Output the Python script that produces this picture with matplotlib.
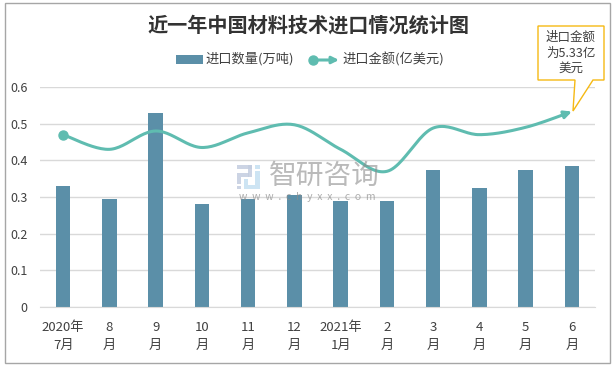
import matplotlib
matplotlib.use("Agg")
import matplotlib.pyplot as plt
import numpy as np
from matplotlib.patches import Polygon, Rectangle

plt.rcParams["font.family"] = ["Noto Sans CJK SC", "DejaVu Sans"]

months = ["2020年\n7月", "8\n月", "9\n月", "10\n月", "11\n月", "12\n月",
          "2021年\n1月", "2\n月", "3\n月", "4\n月", "5\n月", "6\n月"]
quantity = [0.33, 0.295, 0.53, 0.28, 0.295, 0.305, 0.29, 0.29, 0.375, 0.325, 0.375, 0.385]
amount = [0.47, 0.43, 0.48, 0.435, 0.475, 0.497, 0.43, 0.37, 0.488, 0.47, 0.49, 0.533]
y_ticks = [0, 0.1, 0.2, 0.3, 0.4, 0.5, 0.6]
y_labels = ["0", "0.1", "0.2", "0.3", "0.4", "0.5", "0.6"]

W, H = 613, 367
BAR = "#5b8fa8"
LINE = "#5fbcb0"
GOLD = "#f5b914"
TEXT = "#404040"


def fx(px):
    return px / W


def fy(py):
    return 1 - py / H


def smooth(xs, ys, steps=24):
    # same kind of bezier smoothing the spreadsheet line uses
    xs = np.asarray(xs, dtype=float)
    ys = np.asarray(ys, dtype=float)
    px, py = [], []
    for i in range(len(xs) - 1):
        a, d = max(i - 1, 0), min(i + 2, len(xs) - 1)
        c1x = xs[i] + (xs[i + 1] - xs[a]) / 6
        c1y = ys[i] + (ys[i + 1] - ys[a]) / 6
        c2x = xs[i + 1] - (xs[d] - xs[i]) / 6
        c2y = ys[i + 1] - (ys[d] - ys[i]) / 6
        t = np.linspace(0, 1, steps, endpoint=False)
        px.extend((1 - t) ** 3 * xs[i] + 3 * (1 - t) ** 2 * t * c1x + 3 * (1 - t) * t ** 2 * c2x + t ** 3 * xs[i + 1])
        py.extend((1 - t) ** 3 * ys[i] + 3 * (1 - t) ** 2 * t * c1y + 3 * (1 - t) * t ** 2 * c2y + t ** 3 * ys[i + 1])
    px.append(xs[-1])
    py.append(ys[-1])
    return np.array(px), np.array(py)


fig = plt.figure(figsize=(W / 100, H / 100), dpi=100, facecolor="white")
fig.add_artist(Rectangle((fx(5), fy(363)), fx(605), 360 / H, transform=fig.transFigure,
                         fill=False, edgecolor="#a6a6a6", linewidth=1))

ax = fig.add_axes([fx(40), fy(307), fx(555), 220 / H])
x = np.arange(len(months))
ax.bar(x, quantity, width=0.31, color=BAR, zorder=2)

sx, sy = smooth(x, amount)
ax.plot(sx[:-3], sy[:-3], color=LINE, linewidth=2.2, zorder=3, solid_capstyle="round")
ax.plot(x[0], amount[0], "o", color=LINE, markersize=6.5, zorder=4)
ax.annotate("", xy=(sx[-1], sy[-1]), xytext=(sx[-6], sy[-6]), zorder=4,
            arrowprops=dict(arrowstyle="-|>", color=LINE, lw=2.2, mutation_scale=11,
                            shrinkA=0, shrinkB=0))

ax.set_xlim(-0.5, len(months) - 0.5)
ax.set_ylim(0, 0.6)
ax.set_yticks(y_ticks)
ax.set_yticklabels(y_labels, fontsize=9, color=TEXT)
ax.set_xticks(x)
ax.set_xticklabels(months, fontsize=9.5, color=TEXT, linespacing=1.55)
ax.tick_params(length=0, axis="both")
ax.tick_params(axis="x", pad=10)
ax.tick_params(axis="y", pad=9)
ax.grid(axis="y", color="#d9d9d9", linewidth=1, zorder=0)
ax.set_axisbelow(True)
for name, spine in ax.spines.items():
    spine.set_visible(name == "bottom")
    spine.set_color("#d9d9d9")

fig.text(fx(308), fy(25), "近一年中国材料技术进口情况统计图", fontsize=14.5, fontweight="bold",
         color="#333333", ha="center", va="center")

# legend
fig.add_artist(Rectangle((fx(176), fy(64)), fx(27), 9 / H, transform=fig.transFigure,
                         color=BAR, linewidth=0))
fig.text(fx(205), fy(59), "进口数量(万吨)", fontsize=9.5, color=TEXT, va="center")
fig.add_artist(plt.Line2D([fx(313)], [fy(60)], marker="o", color=LINE, markersize=6.5,
                          transform=fig.transFigure))
ax.annotate("", xy=(fx(339), fy(60)), xytext=(fx(313), fy(60)), xycoords="figure fraction",
            textcoords="figure fraction",
            arrowprops=dict(arrowstyle="-|>", color=LINE, lw=2.2, mutation_scale=10,
                            shrinkA=0, shrinkB=0))
fig.text(fx(342), fy(59), "进口金额(亿美元)", fontsize=9.5, color=TEXT, va="center")

# callout
callout = [(538, 26), (604, 26), (604, 80), (593, 80), (573, 111), (575, 80), (538, 80)]
fig.add_artist(Polygon([(fx(a), fy(b)) for a, b in callout], closed=True, transform=fig.transFigure,
                       facecolor="white", edgecolor=GOLD, linewidth=1, zorder=5))
fig.text(fx(571), fy(53), "进口金额\n为5.33亿\n美元", fontsize=9, color=TEXT, ha="center",
         va="center", linespacing=1.25, zorder=6)

# watermark
logo_dark = [(237, 165, 15, 4), (248, 165, 4, 12), (237, 173, 12, 4), (237, 177, 4, 7), (237, 186, 4, 3)]
logo_light = [(255, 165, 5, 4), (255, 171, 5, 14), (244, 185, 16, 4), (244, 179, 4, 6)]
for pieces, color in [(logo_dark, "#c3cde0"), (logo_light, "#c5e0f2")]:
    for a, b, c, d in pieces:
        fig.add_artist(Rectangle((fx(a), fy(b + d)), fx(c), d / H, transform=fig.transFigure,
                                 color=color, linewidth=0, alpha=0.85, zorder=6))
fig.text(fx(324), fy(176), "智研咨询", fontsize=20, color="#8c8c8c", alpha=0.6, ha="center",
         va="center", zorder=6)
fig.text(fx(307), fy(197), "w  w  w  .  c  h  y  x  x  .  c  o  m", fontsize=7.5, color="#8c8c8c",
         alpha=0.7, ha="center", va="center", zorder=6)

fig.savefig("out.png", dpi=100)
